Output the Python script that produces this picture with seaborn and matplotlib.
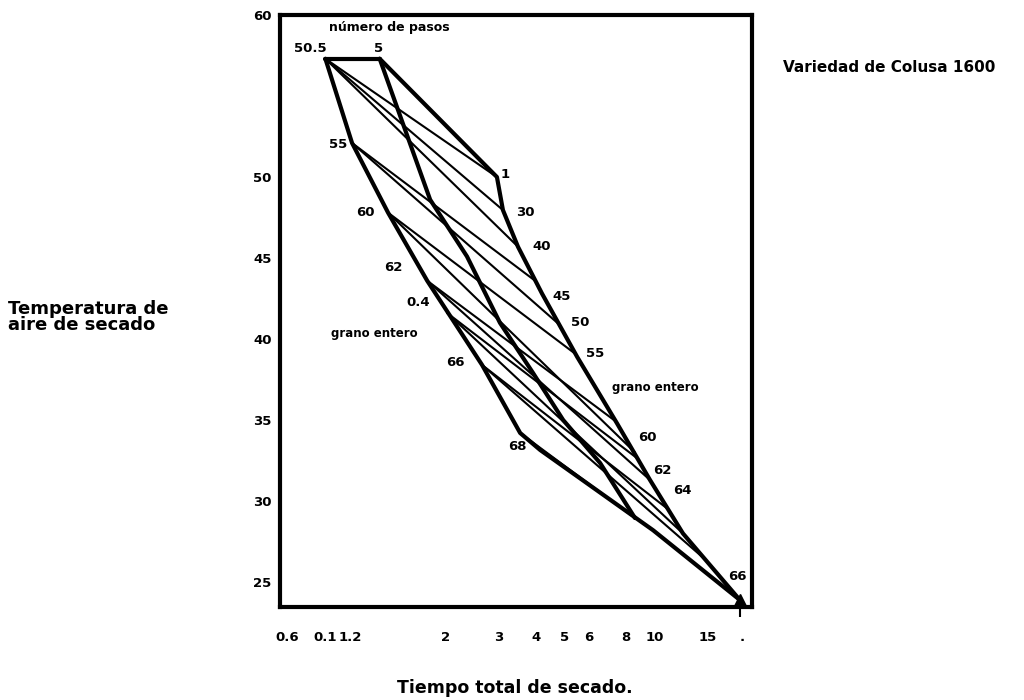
import numpy as np
import pandas as pd
import matplotlib.pyplot as plt
import seaborn as sns
from matplotlib.ticker import FixedLocator

# tiempo total de secado (h) y temperatura del aire (C), leidos del grafico
# contorno izquierdo / inferior
borde_izq_t = [0.79, 0.97, 1.28, 1.73, 2.64, 3.54, 4.13, 9.85, 19.2]
borde_izq_T = [57.3, 52.1, 47.8, 43.6, 38.4, 34.2, 33.15, 28.2, 23.9]
# contorno derecho
borde_der_t = [1.20, 2.96, 3.10, 3.48, 4.19, 5.49, 7.46, 9.62, 12.4, 19.2]
borde_der_T = [57.3, 50.0, 47.96, 45.7, 42.8, 38.9, 34.8, 31.3, 28.0, 23.9]
# linea de 5 pasos
pasos5_t = [1.20, 1.77, 2.35, 3.03, 3.91, 4.93, 6.55, 8.57]
pasos5_T = [57.3, 48.6, 45.1, 41.0, 37.9, 35.0, 32.35, 28.95]
# borde superior
sup_t = [0.79, 1.20]
sup_T = [57.3, 57.3]

# lineas finas (grano entero): punto inicial y final
fina_t0 = [0.79, 0.97, 1.28, 1.73, 2.02, 2.64, 0.79, 0.79, 0.97, 1.28, 1.73, 2.02, 2.64, 3.54]
fina_T0 = [57.3, 52.1, 47.8, 43.6, 41.6, 38.4, 57.3, 57.3, 52.1, 47.8, 43.6, 41.6, 38.4, 34.2]
fina_t1 = [2.96, 3.97, 5.40, 7.29, 8.77, 11.05, 3.10, 3.48, 4.78, 8.57, 9.62, 12.4, 14.7, 8.57]
fina_T1 = [50.0, 43.6, 39.1, 35.0, 32.6, 29.5, 47.96, 45.7, 40.9, 33.0, 31.3, 28.0, 26.4, 28.95]

y_ticks = [25, 30, 35, 40, 45, 50, 60]
x_ticks = [0.59, 0.79, 0.955, 2, 3, 4, 5, 6, 8, 10, 15, 19.6]
x_labels = ["0.6", "0.1", "1.2", "2", "3", "4", "5", "6", "8", "10", "15", "."]

# tablas para seaborn
gruesas = pd.concat([
    pd.DataFrame({"t": borde_izq_t, "T": borde_izq_T, "linea": "izq"}),
    pd.DataFrame({"t": borde_der_t, "T": borde_der_T, "linea": "der"}),
    pd.DataFrame({"t": pasos5_t, "T": pasos5_T, "linea": "p5"}),
    pd.DataFrame({"t": sup_t, "T": sup_T, "linea": "sup"}),
], ignore_index=True)

filas = []
for i in range(len(fina_t0)):
    filas.append({"t": fina_t0[i], "T": fina_T0[i], "linea": i})
    filas.append({"t": fina_t1[i], "T": fina_T1[i], "linea": i})
finas = pd.DataFrame(filas)

sns.set_style("white")
plt.rcParams["font.family"] = ["DejaVu Sans"]
plt.rcParams["font.weight"] = "bold"
plt.rcParams["text.color"] = "black"
plt.rcParams["xtick.color"] = "black"
plt.rcParams["ytick.color"] = "black"

fig = plt.figure(figsize=(10.24, 7), dpi=100)
ax = fig.add_axes([280 / 1024, 1 - 607 / 700, 472 / 1024, 592 / 700])

sns.lineplot(data=finas, x="t", y="T", units="linea", estimator=None, sort=False,
             color="black", lw=1.5, ax=ax)
sns.lineplot(data=gruesas, x="t", y="T", units="linea", estimator=None, sort=False,
             color="black", lw=3, ax=ax)
ax.plot([borde_der_t[-1]], [borde_der_T[-1]], marker="^", color="black", ms=8)

ax.set_xscale("log")
ax.set_xlim(0.557, 21.1)
ax.set_ylim(23.46, 60)
ax.xaxis.set_major_locator(FixedLocator(x_ticks))
ax.set_xticklabels(x_labels)
ax.xaxis.set_minor_locator(FixedLocator([19.2]))
ax.set_yticks(y_ticks)
ax.tick_params(axis="x", which="major", bottom=True, length=0, pad=17, labelsize=9.5)
ax.tick_params(axis="x", which="minor", bottom=True, length=7, width=1.5, direction="out")
ax.tick_params(axis="y", length=0, pad=6, labelsize=9.5)
for lab in ax.get_xticklabels() + ax.get_yticklabels():
    lab.set_fontweight("bold")
ax.set_xlabel("")
ax.set_ylabel("")
for s in ax.spines.values():
    s.set_linewidth(3)
    s.set_color("black")


def px(x, y):
    return x / 1024, 1 - y / 700


etiquetas = [("55", 338, 145), ("60", 365, 213), ("62", 393, 268), ("0.4", 418, 302),
             ("66", 455, 362), ("68", 517, 447), ("1", 505, 175), ("30", 525, 212),
             ("40", 542, 247), ("45", 562, 297), ("50", 580, 322), ("55", 595, 353),
             ("60", 647, 437), ("62", 662, 470), ("64", 682, 490), ("66", 737, 577),
             ("50.5", 310, 48), ("5", 379, 48)]
for txt, x, y in etiquetas:
    fig.text(*px(x, y), txt, ha="center", va="center", fontsize=9.5, fontweight="bold")

fig.text(*px(374, 334), "grano entero", ha="center", va="center", fontsize=8.5, fontweight="bold")
fig.text(*px(655, 388), "grano entero", ha="center", va="center", fontsize=8.5, fontweight="bold")
fig.text(*px(389, 28), "número de pasos", ha="center", va="center", fontsize=9, fontweight="bold")
fig.text(*px(783, 67), "Variedad de Colusa 1600", ha="left", va="center", fontsize=11, fontweight="bold")
fig.text(*px(8, 317), "Temperatura de\naire de secado", ha="left", va="center",
         fontsize=13, fontweight="bold", linespacing=0.9)
fig.text(*px(515, 688), "Tiempo total de secado.", ha="center", va="center",
         fontsize=12.5, fontweight="bold")

fig.savefig("out.png", dpi=100, facecolor="white")
